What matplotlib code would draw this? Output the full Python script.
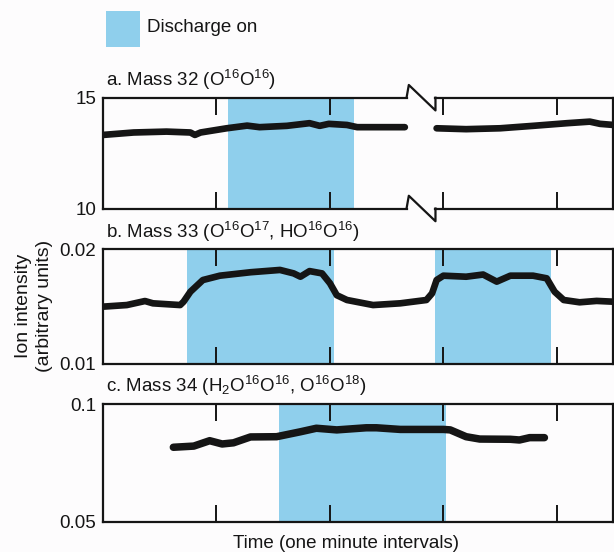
import matplotlib

matplotlib.use("Agg")
import matplotlib.pyplot as plt
from matplotlib.patches import Rectangle
import matplotlib.transforms as mtransforms

BLUE = "#8fcfec"
INK = "#151515"
BG = "#fdfcfd"

plt.rcParams.update(
    {
        "font.family": ["Liberation Sans Narrow", "Liberation Sans", "DejaVu Sans"],
        "font.size": 12,
        "mathtext.default": "regular",
        "axes.linewidth": 1.6,
        "axes.edgecolor": INK,
        "text.color": INK,
        "xtick.color": INK,
        "ytick.color": INK,
    }
)

# time in minutes
ticks = [1, 2, 3, 4]

# a. Mass 32, two pieces either side of the break
a_t1 = [0.0, 0.27, 0.56, 0.77, 0.81, 0.86, 1.09, 1.27, 1.38, 1.62, 1.82, 1.91, 1.99, 2.15, 2.24, 2.47, 2.66]
a_v1 = [13.32, 13.43, 13.47, 13.43, 13.32, 13.43, 13.62, 13.74, 13.67, 13.73, 13.85, 13.73, 13.82, 13.77, 13.67, 13.67, 13.67]
a_t2 = [2.94, 3.2, 3.5, 3.79, 4.09, 4.29, 4.38, 4.5]
a_v2 = [13.62, 13.58, 13.62, 13.73, 13.85, 13.92, 13.82, 13.77]
a_on = [(1.10, 2.21)]

# b. Mass 33
b_t = [0.0, 0.21, 0.37, 0.44, 0.68, 0.71, 0.77, 0.88, 1.03, 1.30, 1.56, 1.68, 1.74, 1.82, 1.93, 2.0,
       2.06, 2.15, 2.38, 2.62, 2.85, 2.90, 2.94, 3.0, 3.2, 3.35, 3.47, 3.59, 3.79, 3.91, 3.98, 4.06,
       4.2, 4.35, 4.5]
b_v = [0.0150, 0.01514, 0.01549, 0.01529, 0.01514, 0.01543, 0.0163, 0.01732, 0.0177, 0.0180, 0.0182,
       0.0179, 0.01761, 0.0181, 0.0179, 0.01704, 0.0160, 0.01558, 0.01514, 0.01529, 0.01558, 0.01616,
       0.01732, 0.0177, 0.01761, 0.0178, 0.01718, 0.0177, 0.0177, 0.01747, 0.0163, 0.01558, 0.01538,
       0.0155, 0.01543]
b_on = [(0.74, 2.04), (2.93, 3.95)]

# c. Mass 34
c_t = [0.62, 0.80, 0.94, 1.05, 1.15, 1.30, 1.53, 1.74, 1.88, 2.06, 2.32, 2.41, 2.62, 3.0, 3.06,
       3.2, 3.32, 3.59, 3.67, 3.76, 3.89]
c_v = [0.0817, 0.0822, 0.0845, 0.0831, 0.0836, 0.0861, 0.0862, 0.0883, 0.0898, 0.0891, 0.0900,
       0.0900, 0.0893, 0.0893, 0.0891, 0.0862, 0.0852, 0.0851, 0.0848, 0.0858, 0.0858]
c_on = [(1.55, 3.02)]

panels = [
    ("a. Mass 32 (O$^{16}$O$^{16}$)", (10, 15), ["15", "10"], a_on),
    ("b. Mass 33 (O$^{16}$O$^{17}$, HO$^{16}$O$^{16}$)", (0.01, 0.02), ["0.02", "0.01"], b_on),
    ("c. Mass 34 (H$_2$O$^{16}$O$^{16}$, O$^{16}$O$^{18}$)", (0.05, 0.1), ["0.1", "0.05"], c_on),
]

W, H = 614, 552
fig = plt.figure(figsize=(W / 100, H / 100), dpi=100, facecolor=BG)

# (top, bottom) of each panel in pixels
boxes = [(97.7, 208.5), (249.3, 364.0), (404.3, 521.7)]
left, right = 103, 612.5

axes = []
for (title, ylim, ylabels, spans), (top, bot) in zip(panels, boxes):
    ax = fig.add_axes([left / W, 1 - bot / H, (right - left) / W, (bot - top) / H])
    ax.set_facecolor("none")
    ax.set_xlim(0, 4.49)
    ax.set_ylim(*ylim)
    for x0, x1 in spans:
        ax.axvspan(x0, x1, color=BLUE, lw=0, zorder=0)
    ax.set_xticks(ticks)
    ax.set_xticklabels([])
    ax.set_yticks([ylim[1], ylim[0]])
    ax.set_yticklabels(ylabels, fontsize=13.5)
    ax.tick_params(axis="x", direction="in", length=12, width=1.4, top=True, bottom=True)
    ax.tick_params(axis="y", length=0, pad=5)
    ax.text(0.005, 1.05, title, transform=ax.transAxes, fontsize=13.5, va="bottom", ha="left")
    axes.append(ax)

ax_a, ax_b, ax_c = axes

trace = dict(color=INK, solid_capstyle="round", solid_joinstyle="round")
ax_a.plot(a_t1, a_v1, lw=4.8, **trace)
ax_a.plot(a_t2, a_v2, lw=4.8, **trace)
ax_b.plot(b_t, b_v, lw=4.8, **trace)
ax_c.plot(c_t, c_v, lw=5.4, **trace)

# axis break on panel a: redraw top and bottom spines with a gap
ax_a.spines["top"].set_visible(False)
ax_a.spines["bottom"].set_visible(False)
tr = mtransforms.blended_transform_factory(ax_a.transData, ax_a.transAxes)
gap0, gap1 = 2.675, 2.93
for y in [1, 0]:
    ax_a.plot([0, gap0], [y, y], color=INK, lw=1.6, transform=tr, clip_on=False)
    ax_a.plot([gap1, 4.49], [y, y], color=INK, lw=1.6, transform=tr, clip_on=False)
    ax_a.plot([gap0, gap0 + 0.02, gap1, gap1], [y, y + 0.115, y - 0.115, y],
              color=INK, lw=1.6, transform=tr, clip_on=False)

# legend patch
fig.patches.append(Rectangle((105.7 / W, 1 - 46.7 / H), 34 / W, 35.7 / H,
                             transform=fig.transFigure, color=BLUE, lw=0))
fig.text(147 / W, 1 - 28 / H, "Discharge on", fontsize=13.5, va="center", ha="left")

fig.text(34 / W, 1 - 306 / H, "Ion intensity\n(arbitrary units)", rotation=90,
         fontsize=14, va="center", ha="center", linespacing=1.3)
fig.text(346 / W, 1 - 543 / H, "Time (one minute intervals)", fontsize=13.5,
         va="center", ha="center")

fig.savefig("out.png", dpi=100, facecolor=BG)
